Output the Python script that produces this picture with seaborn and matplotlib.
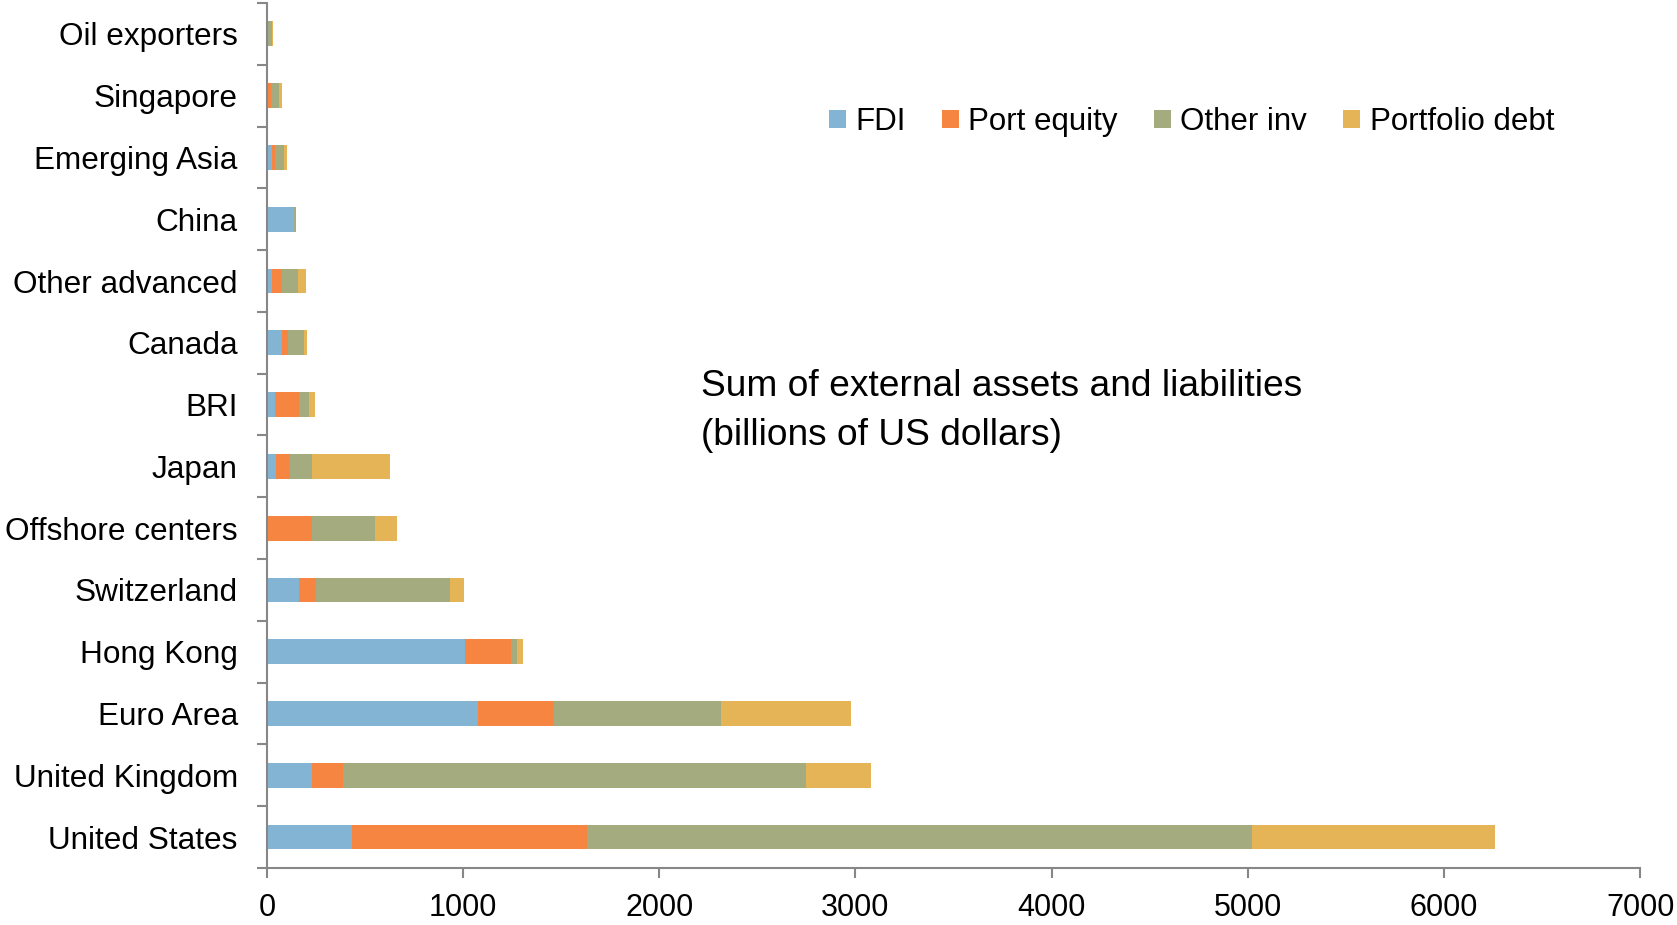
import numpy as np
import pandas as pd
import matplotlib
matplotlib.use("Agg")
import matplotlib.pyplot as plt
from matplotlib.patches import Patch
from matplotlib.ticker import FixedLocator
import seaborn as sns

# data (billions of US dollars)
regions = ["Oil exporters", "Singapore", "Emerging Asia", "China", "Other advanced",
           "Canada", "BRI", "Japan", "Offshore centers", "Switzerland",
           "Hong Kong", "Euro Area", "United Kingdom", "United States"]
fdi = [3, 3, 24, 138, 24, 76, 43, 44, 5, 165, 1010, 1075, 230, 435]
port_equity = [3, 16, 17, 0, 51, 31, 122, 75, 226, 85, 235, 390, 160, 1195]
other_inv = [18, 44, 47, 8, 83, 83, 49, 112, 321, 683, 30, 850, 2360, 3390]
portfolio_debt = [5, 12, 12, 0, 39, 14, 31, 395, 109, 72, 30, 660, 330, 1240]
series_names = ["FDI", "Port equity", "Other inv", "Portfolio debt"]
xticks = [0, 1000, 2000, 3000, 4000, 5000, 6000, 7000]

colors = ["#84B4D4", "#F68541", "#A4AB7F", "#E5B456"]
axis_gray = "#878787"

sns.set_style("white")
plt.rcParams["font.family"] = ["Liberation Sans", "DejaVu Sans"]
plt.rcParams["font.size"] = 22.5
plt.rcParams["text.color"] = "black"
plt.rcParams["xtick.color"] = "black"
plt.rcParams["ytick.color"] = "black"

df = pd.DataFrame({"region": regions, "FDI": fdi, "Port equity": port_equity,
                   "Other inv": other_inv, "Portfolio debt": portfolio_debt})
cum = df[series_names].cumsum(axis=1)
cum["region"] = df["region"]

fig = plt.figure(figsize=(16.77, 9.25), dpi=100)
ax = fig.add_axes([0.1592, 0.0616, 0.8188, 0.9352])

# stacked bars: draw cumulative totals from the outermost layer inwards
for name, col in reversed(list(zip(series_names, colors))):
    sns.barplot(data=cum, x=name, y="region", order=regions, orient="h",
                color=col, width=0.4, linewidth=0, saturation=1, ax=ax)

ax.set_xlim(0, 7000)
ax.set_ylim(len(regions) - 0.5, -0.5)
ax.set_xticks(xticks)
ax.set_xticklabels([str(t) for t in xticks])
ax.set_xlabel("")
ax.set_ylabel("")

# y ticks between categories, labels centred
ax.yaxis.set_minor_locator(FixedLocator(np.arange(-0.5, len(regions), 1.0)))
ax.tick_params(axis="y", which="major", length=0, pad=21, labelsize=22.7, labelcolor="black")
ax.tick_params(axis="y", which="minor", left=True, length=7.2, width=1.5, color=axis_gray)
ax.tick_params(axis="x", which="major", bottom=True, length=7.2, width=1.5,
               color=axis_gray, pad=11, labelsize=22, labelcolor="black")

for side in ["top", "right"]:
    ax.spines[side].set_visible(False)
for side in ["left", "bottom"]:
    ax.spines[side].set_color(axis_gray)
    ax.spines[side].set_linewidth(1.5)

handles = [Patch(facecolor=c, edgecolor="none", label=n) for n, c in zip(series_names, colors)]
fig.legend(handles=handles, loc="center", bbox_to_anchor=(0.7105, 0.868), ncol=4,
           frameon=False, fontsize=22.5, handlelength=0.55, handleheight=0.55,
           handletextpad=0.3, columnspacing=1.15)

fig.text(701 / 1677, 1 - 411 / 925, "Sum of external assets and liabilities\n(billions of US dollars)",
         ha="left", va="center", fontsize=26.7, linespacing=1.5)

fig.savefig("out.png", dpi=100)
